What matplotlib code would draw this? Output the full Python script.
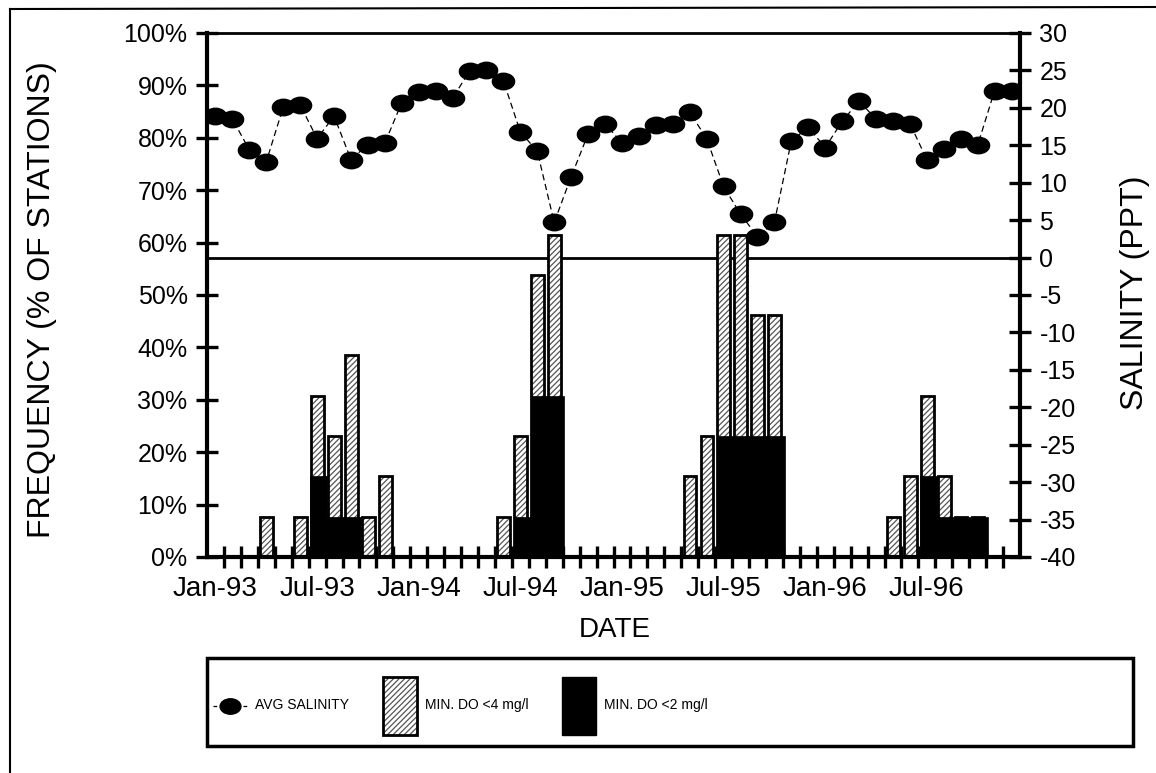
import numpy as np
import matplotlib
matplotlib.use('Agg')
from matplotlib import pyplot as plt
from matplotlib.patches import Rectangle, Patch
from matplotlib.lines import Line2D
from matplotlib.path import Path
from matplotlib.transforms import Affine2D
from matplotlib.legend_handler import HandlerLine2D

# Data: months Jan-93 .. Dec-96
mesiace = ['Jan', 'Feb', 'Mar', 'Apr', 'May', 'Jun', 'Jul', 'Aug', 'Sep', 'Oct', 'Nov', 'Dec']
roky = ['93', '94', '95', '96']

# Average salinity (ppt)
salinity = [18.9, 18.5, 14.4, 12.8, 20.1, 20.4, 15.9, 18.9, 13.1, 15.1, 15.3, 20.7,
            22.1, 22.2, 21.3, 24.9, 25.0, 23.6, 16.8, 14.2, 4.7, 10.8, 16.5, 17.9,
            15.3, 16.2, 17.7, 17.8, 19.4, 15.9, 9.5, 5.8, 2.8, 4.7, 15.6, 17.4,
            14.7, 18.2, 20.9, 18.5, 18.3, 17.9, 13.1, 14.5, 15.8, 15.0, 22.3, 22.2]

# Frequency of stations with min. DO < 4 mg/l (%)
do_pod4 = [0, 0, 0, 7.7, 0, 7.7, 30.8, 23.1, 38.5, 7.7, 15.4, 0,
           0, 0, 0, 0, 0, 7.7, 23.1, 53.8, 61.5, 0, 0, 0,
           0, 0, 0, 0, 15.4, 23.1, 61.5, 61.5, 46.2, 46.2, 0, 0,
           0, 0, 0, 0, 7.7, 15.4, 30.8, 15.4, 7.7, 7.7, 0, 0]

# Frequency of stations with min. DO < 2 mg/l (%)
do_pod2 = [0, 0, 0, 0, 0, 0, 15.4, 7.7, 7.7, 0, 0, 0,
           0, 0, 0, 0, 0, 0, 7.7, 30.8, 30.8, 0, 0, 0,
           0, 0, 0, 0, 0, 0, 23.1, 23.1, 23.1, 23.1, 0, 0,
           0, 0, 0, 0, 0, 0, 15.4, 7.7, 7.7, 7.7, 0, 0]

sal_min, sal_max = -40, 30


# Legend line handler centred vertically in a tall handle box
class HandlerStred(HandlerLine2D):
    def create_artists(self, legend, orig_handle, xdescent, ydescent, width, height,
                       fontsize, trans):
        arts = super().create_artists(legend, orig_handle, xdescent, ydescent, width,
                                      height, fontsize, trans)
        for a in arts:
            a.set_ydata(np.full_like(np.asarray(a.get_xdata(), dtype=float),
                                     height / 2 - ydescent))
        return arts


plt.rcParams['font.family'] = ['Liberation Sans', 'DejaVu Sans']
plt.rcParams['axes.unicode_minus'] = False
plt.rcParams['hatch.linewidth'] = 0.9

W, H = 1156, 773
fig = plt.figure(figsize=(W / 100, H / 100), dpi=100)
ax = fig.add_axes([207 / W, 1 - 557 / H, (1020 - 207) / W, (557 - 33) / H])

x = np.arange(len(salinity))

# Zero salinity line (under the bars)
zero_pct = (0 - sal_min) / (sal_max - sal_min) * 100
ax.axhline(zero_pct, color='black', lw=2, zorder=1)

# Bars: hatched (<4) behind, black (<2) in front
ax.bar(x + 0.02, do_pod4, 0.76, color='white', edgecolor='#555555', hatch='//////', lw=0, zorder=2)
ax.bar(x + 0.02, do_pod4, 0.76, fill=False, edgecolor='black', lw=2, zorder=3)
ax.bar(x + 0.1, do_pod2, 1.0, color='black', edgecolor='black', lw=0.5, zorder=4)

ax.set_xlim(-0.5, len(salinity) - 0.5)
ax.set_ylim(0, 100)
ax.set_yticks(range(0, 101, 10))
ax.set_yticklabels([f"{v}%" for v in range(0, 101, 10)], fontsize=18)

stitky = [m + '-' + r for r in roky for m in mesiace]
ax.set_xticks(x[::6])
ax.set_xticklabels(stitky[::6], fontsize=20)
ax.set_xticks(np.arange(0.5, len(salinity) - 1, 1), minor=True)
ax.tick_params(axis='x', which='major', length=0, pad=14)
ax.tick_params(axis='x', which='minor', direction='inout', length=16, width=2.4)
ax.tick_params(axis='y', direction='inout', length=16, width=2.4, pad=6)

for s in ['left', 'bottom']:
    ax.spines[s].set_linewidth(3)
ax.spines['top'].set_linewidth(2)
ax.spines['right'].set_visible(False)

# Salinity on the right axis
ax2 = ax.twinx()
elipsa = Path.unit_circle().transformed(Affine2D().scale(1.35, 1.0))
ax2.plot(x, salinity, color='black', lw=0.9, linestyle=(0, (5, 3)),
         marker=elipsa, markersize=16, markerfacecolor='black', markeredgecolor='black')
ax2.set_ylim(sal_min, sal_max)
ax2.set_yticks(range(sal_min, sal_max + 1, 5))
ax2.tick_params(axis='y', direction='inout', length=16, width=2.4, pad=6, labelsize=18)
ax2.spines['right'].set_linewidth(3)
for s in ['left', 'bottom', 'top']:
    ax2.spines[s].set_visible(False)

# Axis titles
fig.text(42 / W, 1 - 300 / H, 'FREQUENCY (% OF STATIONS)', rotation=90, fontsize=23,
         ha='center', va='center')
fig.text(1135 / W, 1 - 293 / H, 'SALINITY (PPT)', rotation=90, fontsize=23,
         ha='center', va='center')
fig.text(615 / W, 1 - 630 / H, 'DATE', fontsize=20, ha='center', va='center')

# Legend box
fig.add_artist(Rectangle((207 / W, 1 - 746 / H), (1133 - 207) / W, (746 - 658) / H,
                         transform=fig.transFigure, fill=False, edgecolor='black', lw=2.5))
h_sal = Line2D([], [], color='black', lw=0.9, linestyle=(0, (3, 3)), marker=elipsa,
               markersize=15)
h_do4 = (Patch(facecolor='white', edgecolor='#555555', hatch='//////', lw=0),
         Patch(fill=False, edgecolor='black', lw=2))
h_do2 = Patch(facecolor='black', edgecolor='black')
fig.legend([h_sal, h_do4, h_do2], ['AVG SALINITY', 'MIN. DO <4 mg/l', 'MIN. DO <2 mg/l'],
           loc='center left', bbox_to_anchor=(213 / W, 1 - 706 / H), ncol=3, frameon=False,
           fontsize=10, handlelength=2.45, handleheight=6.05, handletextpad=0.6,
           columnspacing=2.4, borderpad=0, borderaxespad=0,
           handler_map={h_sal: HandlerStred()})

# Outer frame of the figure
fig.add_artist(Line2D([10 / W, 10 / W], [0, 1 - 9 / H], transform=fig.transFigure,
                      color='black', lw=1.5))
fig.add_artist(Line2D([10 / W, 1], [1 - 9 / H, 1 - 7 / H], transform=fig.transFigure,
                      color='black', lw=1.5))

fig.savefig('out.png', dpi=100)
